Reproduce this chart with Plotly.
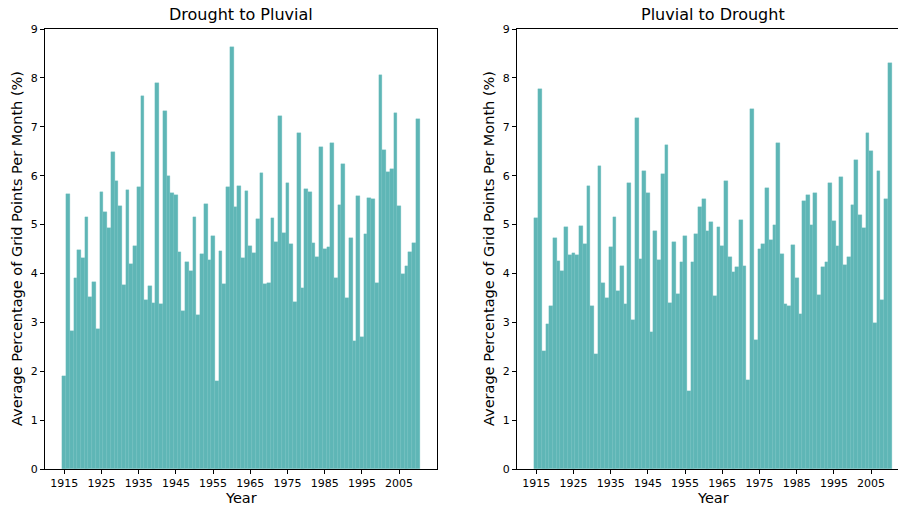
import plotly.graph_objects as go

# Annual values, 1915-2010
years = list(range(1915, 2011))

drought_to_pluvial = [
    1.91, 5.62, 2.83, 3.90, 4.48, 4.31, 5.16, 3.52, 3.83, 2.87,
    5.67, 5.26, 4.93, 6.49, 5.89, 5.38, 3.76, 5.70, 4.20, 4.57,
    5.77, 7.63, 3.46, 3.75, 3.39, 7.89, 3.37, 7.33, 6.00, 5.64,
    5.60, 4.44,
    3.23, 4.23, 4.04, 5.16, 3.14, 4.40, 5.43, 4.27, 4.76, 1.81,
    4.45, 3.78, 5.76, 8.63, 5.35, 5.78, 4.32, 5.69, 4.57, 4.42,
    5.11, 6.06, 3.78, 3.80, 5.14, 4.65, 7.23, 4.83, 5.84, 4.61,
    3.42, 6.88,
    3.71, 5.73, 5.66, 4.63, 4.34, 6.58, 4.51, 4.55, 6.67, 3.90,
    5.41, 6.24, 3.49, 4.72, 2.62, 5.58, 2.71, 4.81, 5.55, 5.52,
    3.80, 8.06, 6.52, 6.08, 6.14, 7.29, 5.38, 3.99, 4.16, 4.44,
    4.63, 7.16,
]

pluvial_to_drought = [
    5.13, 7.78, 2.41, 2.96, 3.34, 4.73, 4.26, 4.06, 4.95, 4.38,
    4.42, 4.37, 4.98, 4.61, 5.79, 3.33, 2.36, 6.20, 3.80, 3.50,
    4.54, 5.16, 3.65, 4.16, 3.37, 5.86, 3.05, 7.18, 4.29, 6.09,
    5.65, 2.81,
    4.86, 4.28, 6.03, 6.63, 3.39, 4.65, 3.58, 4.23, 4.76, 1.60,
    4.24, 4.80, 5.36, 5.53, 4.86, 5.06, 3.54, 4.96, 4.56, 5.89,
    4.34, 4.02, 4.13, 5.10, 4.15, 1.83, 7.36, 2.64, 4.50, 4.61,
    5.75, 4.68, 4.99, 6.67, 4.40,
    3.37, 3.33, 4.59, 3.90, 3.17, 5.49, 5.61, 4.99, 5.65, 3.55,
    4.14, 4.24, 5.86, 5.08, 4.56, 5.97, 4.18, 4.34, 5.41, 6.32,
    5.19, 4.93, 6.88, 6.50, 2.98, 6.09, 3.46, 5.52, 8.30,
]

panel_titles = ["Drought to Pluvial", "Pluvial to Drought"]
x_title = "Year"
y_title = "Average Percentage of Grid Points Per Month (%)"
x_ticks = list(range(1915, 2006, 10))
y_ticks = list(range(0, 10))

BAR = "#5eb6b6"
EDGE = "#78c2c2"
FONT = "DejaVu Sans"

W, H = 898, 506
ML, MR, MT, MB = 45, 0, 29, 37
plot_w = W - ML - MR

# pixel extents of the two panels (relative to the plotting area)
left_dom = [0.0, 392 / plot_w]
right_dom = [472 / plot_w, 1.0]
px_per_year = 392 / 105.38
x_lo = 1909.81
left_range = [x_lo, x_lo + 105.38]
right_range = [x_lo, x_lo + (right_dom[1] - right_dom[0]) * plot_w / px_per_year]

fig = go.Figure()
fig.add_bar(x=years, y=drought_to_pluvial, xaxis="x", yaxis="y", width=1.0,
            marker=dict(color=BAR, line=dict(color=EDGE, width=0.3)),
            showlegend=False, hoverinfo="x+y")
fig.add_bar(x=years, y=pluvial_to_drought, xaxis="x2", yaxis="y2", width=1.0,
            marker=dict(color=BAR, line=dict(color=EDGE, width=0.3)),
            showlegend=False, hoverinfo="x+y")

axis_common = dict(showgrid=False, zeroline=False, showline=True, linecolor="black",
                   linewidth=1, ticks="outside", ticklen=4, tickwidth=1,
                   tickcolor="black", tickfont=dict(family=FONT, size=11, color="black"))

fig.update_layout(
    width=W, height=H,
    margin=dict(l=ML, r=MR, t=MT, b=MB),
    paper_bgcolor="white", plot_bgcolor="white",
    font=dict(family=FONT, color="black"),
    xaxis=dict(domain=left_dom, range=left_range, tickvals=x_ticks, mirror=True,
               anchor="y", **axis_common),
    yaxis=dict(domain=[0, 1], range=[0, 9], tickvals=y_ticks, mirror=True,
               anchor="x", **axis_common),
    xaxis2=dict(domain=right_dom, range=right_range, tickvals=x_ticks, mirror=True,
                anchor="y2", **axis_common),
    yaxis2=dict(domain=[0, 1], range=[0, 9], tickvals=y_ticks, mirror=False,
                anchor="x2", **axis_common),
    bargap=0,
)

def px_to_paper(px):
    return (px - ML) / plot_w

annotations = []
for title, center_px in zip(panel_titles, [241, 713]):
    annotations.append(dict(text=title, x=px_to_paper(center_px), y=1, xref="paper", yref="paper",
                            xanchor="center", yanchor="bottom", yshift=3, showarrow=False,
                            font=dict(family=FONT, size=16, color="black")))
    annotations.append(dict(text=x_title, x=px_to_paper(center_px), y=0, xref="paper", yref="paper",
                            xanchor="center", yanchor="middle", yshift=-29, showarrow=False,
                            font=dict(family=FONT, size=14.5, color="black")))
for dom in (left_dom, right_dom):
    annotations.append(dict(text=y_title, x=dom[0], y=0.5, xref="paper", yref="paper",
                            xanchor="center", yanchor="middle", xshift=-28, textangle=-90,
                            showarrow=False, font=dict(family=FONT, size=14.5, color="black")))
fig.update_layout(annotations=annotations)

fig.write_html("out.html")
